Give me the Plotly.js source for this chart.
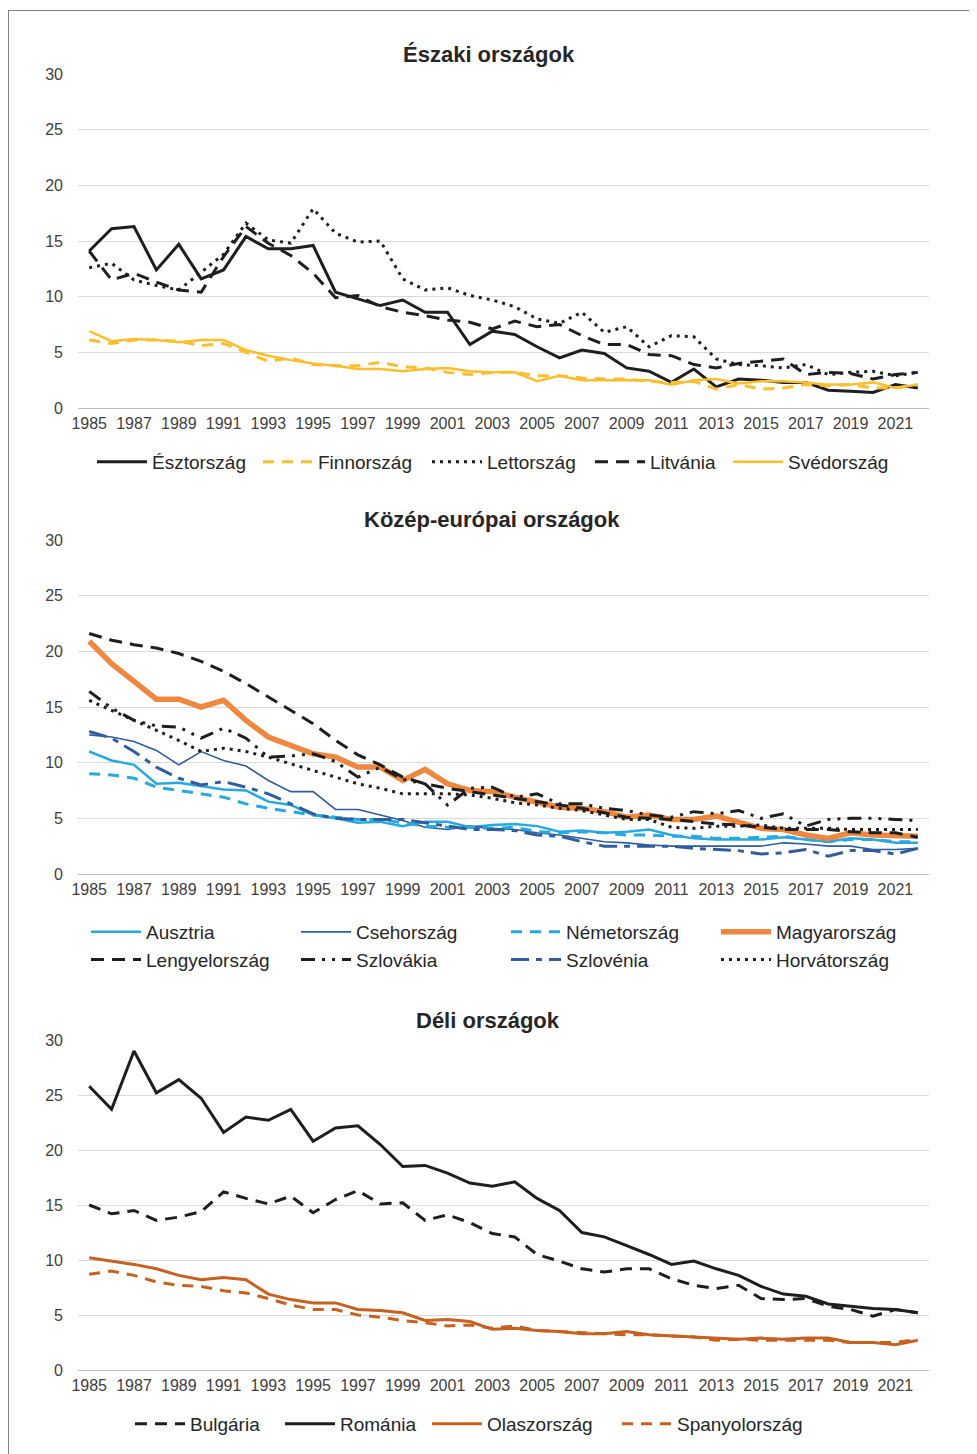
<!DOCTYPE html>
<html><head><meta charset="utf-8">
<script src="https://cdn.plot.ly/plotly-3.0.1.min.js"></script>
<style>
html,body{margin:0;padding:0;background:#fff;}
#wrap{position:relative;width:977px;height:1454px;overflow:hidden;}
#frame{position:absolute;left:8px;top:10px;width:960px;height:1500px;border-left:1px solid #808080;border-top:1px solid #808080;pointer-events:none;}
</style></head><body>
<div id="wrap"><div id="chart" style="width:977px;height:1454px"></div><div id="frame"></div></div>
<script>
// ---- data ----
const years = [1985,1986,1987,1988,1989,1990,1991,1992,1993,1994,1995,1996,1997,1998,1999,2000,2001,2002,2003,2004,2005,2006,2007,2008,2009,2010,2011,2012,2013,2014,2015,2016,2017,2018,2019,2020,2021,2022];
const tickYears = [1985,1987,1989,1991,1993,1995,1997,1999,2001,2003,2005,2007,2009,2011,2013,2015,2017,2019,2021];
const yTicks = [0,5,10,15,20,25,30];

const titles = ['Északi országok','Közép-európai országok','Déli országok'];

// Északi országok
const esztorszag = [14.1,16.1,16.3,12.4,14.7,11.6,12.4,15.4,14.3,14.3, 14.6,10.4,9.8,9.2,9.7,8.6,8.6,5.7,6.9,6.6, 5.5,4.5,5.2,4.9,3.6,3.3,2.3,3.5,1.9,2.6, 2.5,2.3,2.3,1.6,1.5,1.4,2.1,1.8];
const finnorszag = [6.1,5.8,6.1,6.1,6.0,5.6,5.8,5.0,4.2,4.5, 3.9,3.8,3.8,4.1,3.7,3.6,3.2,3.0,3.2,3.2, 2.9,2.9,2.7,2.6,2.6,2.4,2.3,2.4,1.7,2.1, 1.7,1.8,2.1,2.0,2.1,1.8,1.8,2.1];
const lettorszag = [12.6,13.0,11.5,11.0,10.6,12.2,13.8,16.6,15.1,14.8, 17.9,15.7,14.9,15.0,11.6,10.6,10.8,10.1,9.7,9.1, 8.0,7.6,8.6,6.8,7.3,5.5,6.5,6.4,4.4,3.9, 3.8,3.6,3.9,3.0,3.2,3.3,2.9,3.2];
const litvania = [14.1,11.5,12.1,11.3,10.6,10.4,13.6,16.3,14.8,13.7, 12.1,9.9,10.1,9.1,8.6,8.3,7.9,7.7,7.1,7.8, 7.3,7.5,6.5,5.7,5.7,4.8,4.7,3.9,3.6,4.0, 4.2,4.4,3.0,3.2,3.1,2.6,3.0,3.2];
const svedorszag = [6.9,6.0,6.2,6.1,5.9,6.1,6.1,5.2,4.7,4.3, 4.0,3.8,3.5,3.5,3.3,3.5,3.6,3.3,3.2,3.2, 2.4,2.9,2.5,2.5,2.5,2.5,2.1,2.5,2.6,2.2, 2.4,2.4,2.3,2.1,2.1,2.3,1.8,2.1];

// Közép-európai országok
const ausztria = [11.0,10.2,9.8,8.1,8.2,7.9,7.6,7.5,6.5,6.2, 5.3,5.0,4.6,4.7,4.3,4.7,4.7,4.2,4.4,4.5, 4.3,3.8,3.9,3.7,3.8,4.0,3.5,3.2,3.1,3.1, 3.1,3.3,3.1,2.9,3.2,3.1,2.8,2.8];
const csehorszag = [12.5,12.3,11.9,11.1,9.8,11.0,10.2,9.7,8.4,7.4, 7.4,5.8,5.8,5.3,4.8,4.2,4.0,4.3,4.1,4.0, 3.7,3.5,3.2,2.9,2.8,2.6,2.5,2.5,2.5,2.5, 2.5,2.8,2.7,2.5,2.5,2.2,2.2,2.3];
const nemetorszag = [9.0,8.9,8.6,7.8,7.5,7.2,6.9,6.3,5.9,5.6, 5.3,5.1,4.9,4.9,4.6,4.3,4.2,4.2,4.1,4.2, 3.8,3.7,3.8,3.7,3.5,3.5,3.4,3.4,3.2,3.2, 3.3,3.4,3.1,2.9,3.1,3.1,2.9,2.9];
const magyarorszag = [20.9,18.9,17.3,15.7,15.7,15.0,15.6,13.8,12.3,11.5, 10.8,10.5,9.6,9.6,8.4,9.4,8.1,7.5,7.4,6.9, 6.4,6.0,5.9,5.6,5.1,5.3,4.9,4.9,5.2,4.6, 4.1,4.0,3.5,3.2,3.7,3.5,3.4,3.4];
const lengyelorszag = [21.6,21.0,20.6,20.3,19.8,19.1,18.2,17.1,15.9,14.7, 13.5,12.0,10.7,9.8,8.7,8.1,7.7,7.4,7.1,6.8, 6.5,6.2,5.9,5.5,5.1,5.0,4.9,4.7,4.5,4.4, 4.2,4.0,4.0,4.0,3.8,3.7,3.7,3.3];
const szlovakia = [16.4,14.9,13.8,13.3,13.2,12.2,13.1,12.2,10.5,10.6, 10.8,10.1,8.7,9.6,8.5,8.1,6.2,7.7,7.8,6.9, 7.2,6.3,6.3,5.9,5.7,5.3,5.1,5.6,5.4,5.7, 5.0,5.4,4.3,4.9,5.0,5.0,4.9,4.8];
const szlovenia = [12.8,12.2,11.0,9.6,8.6,8.0,8.3,7.8,7.2,6.3, 5.4,5.0,4.9,4.9,4.9,4.6,4.3,4.0,4.0,3.9, 3.5,3.4,2.9,2.5,2.5,2.5,2.5,2.3,2.2,2.1, 1.8,1.9,2.2,1.6,2.1,2.1,1.8,2.3];
const horvatorszag = [15.6,14.7,13.8,12.9,12.0,11.0,11.3,11.0,10.5,9.9, 9.3,8.7,8.1,7.7,7.2,7.2,7.2,7.1,6.8,6.4, 6.2,5.9,5.7,5.3,4.9,4.9,4.2,4.1,4.3,4.3, 4.4,4.1,4.1,4.1,4.0,4.0,4.0,4.0];

// Déli országok
const bulgaria = [15.0,14.2,14.5,13.6,13.9,14.4,16.2,15.6,15.1,15.8, 14.3,15.5,16.3,15.1,15.2,13.6,14.1,13.4,12.4,12.1, 10.5,9.9,9.2,8.9,9.2,9.2,8.3,7.7,7.4,7.7, 6.5,6.4,6.5,5.8,5.5,4.9,5.5,5.2];
const romania = [25.8,23.7,29.0,25.2,26.4,24.7,21.6,23.0,22.7,23.7, 20.8,22.0,22.2,20.5,18.5,18.6,17.9,17.0,16.7,17.1, 15.6,14.5,12.5,12.1,11.3,10.5,9.6,9.9,9.2,8.6, 7.6,6.9,6.7,6.0,5.8,5.6,5.5,5.2];
const olaszorszag = [10.2,9.9,9.6,9.2,8.6,8.2,8.4,8.2,6.9,6.4, 6.1,6.1,5.5,5.4,5.2,4.5,4.6,4.4,3.7,3.8, 3.6,3.5,3.3,3.3,3.5,3.2,3.1,3.0,2.9,2.8, 2.9,2.8,2.9,2.9,2.5,2.5,2.3,2.7];
const spanyolorszag = [8.7,9.0,8.6,8.0,7.7,7.6,7.2,7.0,6.5,5.9, 5.5,5.5,5.0,4.8,4.5,4.3,4.0,4.1,3.8,4.0, 3.6,3.5,3.4,3.3,3.2,3.2,3.1,3.0,2.7,2.8, 2.7,2.7,2.7,2.7,2.5,2.5,2.5,2.8];

// ---- styling ----
const W = 977, H = 1454;
const FONT = 'Liberation Sans, Arial, sans-serif';
const BLACK = '#1e1e1e', YELLOW = '#FDBE2E', LBLUE = '#26A9E0', DBLUE = '#2F5DA0', ORANGE = '#F0873F', BROWN = '#C8601F';

function tr(name, y, n, color, width, dash, lw) {
  const s = n === 1 ? '' : String(n);
  const t = {x: years, y: y, name: name, type: 'scatter', mode: 'lines',
    xaxis: 'x' + s, yaxis: 'y' + s, legend: 'legend' + s,
    line: {color: color, width: width, dash: dash || 'solid'}, hoverinfo: 'skip'};
  if (lw) t.legendwidth = lw;
  return t;
}

const traces = [
  tr('Észtország', esztorszag, 1, BLACK, 3, 'solid', 101),
  tr('Finnország', finnorszag, 1, YELLOW, 3, '11px,8px', 104),
  tr('Lettország', lettorszag, 1, BLACK, 3, '3px,5px', 98),
  tr('Litvánia', litvania, 1, BLACK, 3, '13px,8px', 73),
  tr('Svédország', svedorszag, 1, YELLOW, 2.5, 'solid', 104),

  tr('Ausztria', ausztria, 2, LBLUE, 2.5, 'solid'),
  tr('Csehország', csehorszag, 2, DBLUE, 1.6, 'solid'),
  tr('Németország', nemetorszag, 2, LBLUE, 3, '11px,8px'),
  tr('Magyarország', magyarorszag, 2, ORANGE, 5.5, 'solid'),
  tr('Lengyelország', lengyelorszag, 2, BLACK, 3, '13px,8px'),
  tr('Szlovákia', szlovakia, 2, BLACK, 3, '14px,7px,3px,7px,3px,7px'),
  tr('Szlovénia', szlovenia, 2, DBLUE, 3, '18px,7px,6px,7px'),
  tr('Horvátország', horvatorszag, 2, BLACK, 3, '3px,5px'),

  tr('Bulgária', bulgaria, 3, BLACK, 3, '12px,8px', 85),
  tr('Románia', romania, 3, BLACK, 3, 'solid', 82),
  tr('Olaszország', olaszorszag, 3, BROWN, 3, 'solid', 125),
  tr('Spanyolország', spanyolorszag, 3, BROWN, 3, '11px,8px', 130)
];

const py = p => 1 - p / H;
const xDomain = [78 / W, 929 / W];
const tickFont = {family: FONT, size: 16, color: '#404040'};

function xax(n) {
  return {domain: xDomain, anchor: 'y' + (n === 1 ? '' : n), range: [1984.5, 2022.5],
    tickmode: 'array', tickvals: tickYears, ticktext: tickYears.map(String),
    showgrid: false, zeroline: false, showline: true, linecolor: '#bfbfbf', linewidth: 1.3,
    ticks: '', tickfont: tickFont, fixedrange: true};
}
function yax(n, top, bottom) {
  return {domain: [py(bottom), py(top)], anchor: 'x' + (n === 1 ? '' : n), range: [0, 30],
    tickmode: 'array', tickvals: yTicks, showgrid: true, gridcolor: '#d9d9d9', gridwidth: 1,
    zeroline: false, showline: false, ticks: '', tickfont: tickFont, ticklabelstandoff: 14, fixedrange: true};
}

const legFont = {family: FONT, size: 19, color: '#262626'};
const layout = {
  width: W, height: H, margin: {l: 0, r: 0, t: 0, b: 0},
  paper_bgcolor: '#fff', plot_bgcolor: '#fff', font: {family: FONT},
  showlegend: true,
  xaxis: xax(1), yaxis: yax(1, 74, 408),
  xaxis2: xax(2), yaxis2: yax(2, 540, 874),
  xaxis3: xax(3), yaxis3: yax(3, 1040, 1370),
  legend: {orientation: 'h', x: 92 / W, xanchor: 'left', y: py(462), yanchor: 'middle',
    font: legFont, bgcolor: 'rgba(0,0,0,0)', itemwidth: 50, traceorder: 'normal'},
  legend2: {orientation: 'h', x: 86 / W, xanchor: 'left', y: py(913), yanchor: 'top',
    font: legFont, bgcolor: 'rgba(0,0,0,0)', itemwidth: 50, entrywidth: 145, entrywidthmode: 'pixels', traceorder: 'normal'},
  legend3: {orientation: 'h', x: 130 / W, xanchor: 'left', y: py(1424), yanchor: 'middle',
    font: legFont, bgcolor: 'rgba(0,0,0,0)', itemwidth: 50, traceorder: 'normal'},
  annotations: [
    {text: '<b>' + titles[0] + '</b>', x: 489 / W, y: py(54)},
    {text: '<b>' + titles[1] + '</b>', x: 492 / W, y: py(520)},
    {text: '<b>' + titles[2] + '</b>', x: 488 / W, y: py(1020)}
  ].map(a => Object.assign(a, {xref: 'paper', yref: 'paper', xanchor: 'center', yanchor: 'middle',
    showarrow: false, font: {family: FONT, size: 22, color: '#262626'}}))
};

Plotly.newPlot('chart', traces, layout, {displayModeBar: false, staticPlot: true});
</script>
</body></html>
